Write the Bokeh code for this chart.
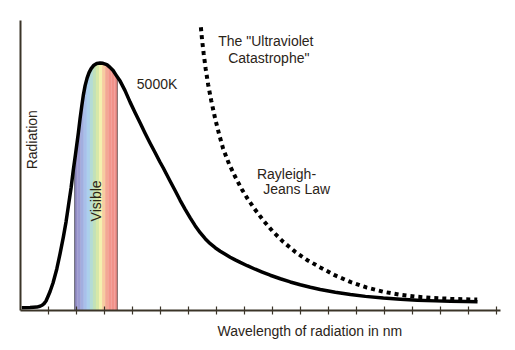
import numpy as np
from bokeh.plotting import figure
from bokeh.models import Range1d, FixedTicker, Label, Title
from bokeh.embed import file_html
from bokeh.resources import INLINE

# ---- data ----
# Planck curve at 5000 K: wavelength (nm) vs relative radiation (peak = 100)
planck_nm = [9, 68, 116, 139, 154, 168, 182, 196, 211, 232, 259, 282, 306, 325, 341,
             361, 377, 393, 413, 425, 437, 449, 461, 475, 489, 504, 521, 544, 568,
             589, 616, 639, 661, 682, 711, 746, 782, 818, 854, 889, 925, 961, 996,
             1018, 1068, 1104, 1139, 1175, 1211, 1246, 1282, 1318, 1354, 1389, 1425,
             1461, 1496, 1532, 1568, 1618, 1675, 1725, 1782, 1854, 1925, 1996, 2068,
             2139, 2246, 2354, 2461, 2589, 2711, 2832, 2961, 3068, 3175, 3261]
planck_rad = [1.09, 1.17, 1.38, 1.70, 2.11, 2.79, 3.85, 5.67, 7.69, 11.13, 16.80, 22.87,
              29.76, 35.83, 41.90, 49.60, 56.88, 63.36, 71.86, 77.53, 82.59, 87.25, 90.89,
              93.93, 96.15, 97.77, 98.99, 99.80, 100.0, 99.9, 99.39, 98.26, 96.96, 95.14,
              92.71, 88.87, 84.21, 79.96, 75.79, 71.66, 67.61, 63.77, 59.92, 57.69, 52.23,
              48.38, 44.53, 40.89, 37.45, 34.29, 31.46, 29.03, 27.00, 25.38, 23.97, 22.71,
              21.54, 20.45, 19.43, 18.10, 16.68, 15.51, 14.25, 12.83, 11.54, 10.40, 9.39,
              8.50, 7.37, 6.44, 5.71, 5.02, 4.53, 4.17, 3.89, 3.72, 3.60, 3.52]

# Rayleigh-Jeans law (classical prediction)
rj_nm = [1287, 1296, 1307, 1321, 1339, 1361, 1389, 1418, 1446, 1489, 1532, 1579, 1625,
         1675, 1732, 1796, 1875, 1961, 2044, 2139, 2246, 2354, 2468, 2589, 2711, 2830,
         2946, 3068, 3259]
rj_rad = [114.49, 109.11, 103.85, 97.77, 91.30, 84.82, 77.53, 71.05, 65.38, 59.11, 54.05,
          48.99, 44.74, 40.69, 36.44, 32.19, 27.73, 23.68, 20.45, 17.41, 14.17, 11.54,
          9.31, 7.57, 6.36, 5.55, 5.06, 4.74, 4.41]

visible_nm = [386, 691]
tick_nm = list(range(200, 3401, 200))

# ---- style ----
spectrum_colors = ["#948ec6", "#9b9bd2", "#a2aedf", "#a8c0ea", "#abd0ec", "#b4dbd6",
                   "#c2e1b8", "#d6e8a8", "#f4f1ae", "#f7cca0", "#f3a894", "#f2968c",
                   "#f1928a", "#f0908a"]
FONT = "Liberation Sans"
TXT = "#2b2418"
AXIS = "#3b3428"

Y_TOP = 117.2
p = figure(width=515, height=350, x_range=Range1d(0, 3425), y_range=Range1d(0, Y_TOP),
           output_backend="svg", toolbar_location=None,
           min_border_left=20, min_border_right=15, min_border_top=20, min_border_bottom=40)
p.outline_line_color = None
p.xgrid.visible = False
p.ygrid.visible = False
p.background_fill_color = "white"
p.border_fill_color = "white"

# axes
xa = p.xaxis[0]
xa.ticker = FixedTicker(ticks=tick_nm, minor_ticks=[])
xa.axis_line_color = AXIS
xa.axis_line_width = 2
xa.major_tick_line_color = AXIS
xa.major_tick_line_width = 1.2
xa.major_tick_in = 4
xa.major_tick_out = 4
xa.minor_tick_line_color = None
xa.major_label_text_color = None
xa.major_label_text_font_size = "1px"
xa.major_label_standoff = 0

ya = p.yaxis[0]
ya.ticker = FixedTicker(ticks=[], minor_ticks=[])
ya.axis_line_color = AXIS
ya.axis_line_width = 2
ya.major_tick_line_color = None
ya.minor_tick_line_color = None
ya.major_label_text_color = None
ya.major_label_standoff = 0
ya.major_tick_out = 0
ya.major_tick_in = 0

# visible spectrum stripes (tall enough to pass the peak, then masked above the curve)
band_top = max(planck_rad) * 1.06
n = len(spectrum_colors)
edges = np.linspace(visible_nm[0], visible_nm[1], n + 1)
p.quad(left=edges[:-1], right=edges[1:] + 1, bottom=0, top=band_top,
       fill_color=spectrum_colors, line_color=None)
# dotted boundaries of visible band
p.segment(x0=visible_nm, y0=[0, 0], x1=visible_nm, y1=[band_top, band_top],
          line_color="#1a1a1a", line_width=1.2, line_dash="1 1")
# white mask above the curve
p.varea(x=planck_nm, y1=planck_rad, y2=Y_TOP, fill_color="white")

# curves
p.line(planck_nm, planck_rad, line_color="black", line_width=3.5, line_join="round")
p.line(rj_nm, rj_rad, line_color="black", line_width=4, line_dash="4 4")

# labels
def lab(x, y, text, align="left", angle=0.0):
    p.add_layout(Label(x=x, y=y, text=text, text_font=FONT, text_font_size="14px",
                       text_color=TXT, text_align=align, text_baseline="middle",
                       angle=angle))

lab(82, 69, "Radiation", align="center", angle=np.pi / 2)
lab(539, 44.3, "Visible", align="center", angle=np.pi / 2)
lab(830, 91.7, "5000K")
lab(1411, 108.8, "The \"Ultraviolet")
lab(1482, 102.0, "Catastrophe\"")
lab(1687, 55.1, "Rayleigh-")
lab(1732, 49.1, "Jeans Law")

xtitle = Title(text="Wavelength of radiation in nm", align="left", offset=197,
               standoff=12, text_font=FONT, text_font_size="14px",
               text_font_style="normal", text_color=TXT)
p.add_layout(xtitle, "below")

open("out.html", "w").write(file_html(p, INLINE))
